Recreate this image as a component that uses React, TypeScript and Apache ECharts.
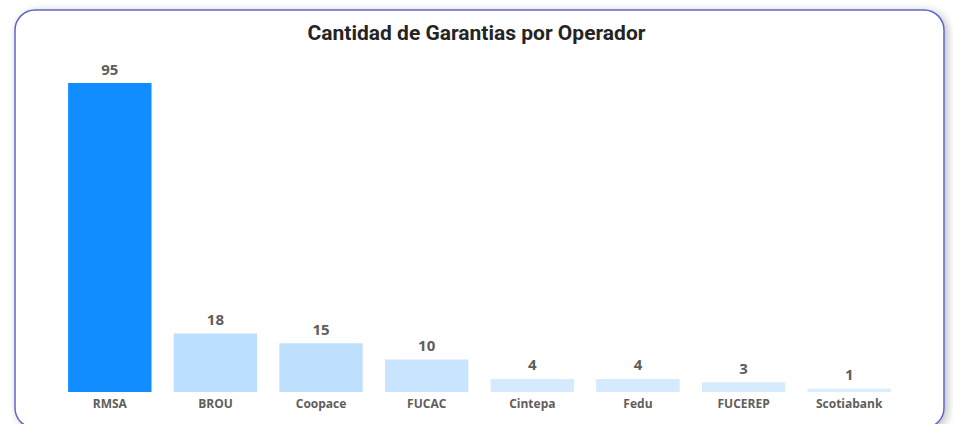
import React, { useEffect, useRef } from "react";
import * as echarts from "echarts";

const categories = ["RMSA", "BROU", "Coopace", "FUCAC", "Cintepa", "Fedu", "FUCEREP", "Scotiabank"];
const values = [95, 18, 15, 10, 4, 4, 3, 1];
const barColors = ["#118DFF", "#BCDEFF", "#C0E0FF", "#C9E4FF", "#D5EAFF", "#D5EAFF", "#D7EBFF", "#DBEEFF"];
const titleText = "Cantidad de Garantias por Operador";

export default function App() {
  const ref = useRef<HTMLDivElement>(null);
  useEffect(() => {
    if (!ref.current) return;
    const chart = echarts.init(ref.current, undefined, { renderer: "svg" });
    chart.setOption({
      animation: false,
      backgroundColor: "#ffffff",
      graphic: [
        {
          type: "rect",
          z: -10,
          silent: true,
          shape: { x: 15, y: 10, width: 929, height: 418, r: 20 },
          style: {
            fill: "#ffffff",
            stroke: "#5E66C8",
            lineWidth: 1.5,
            shadowBlur: 8,
            shadowColor: "rgba(0,0,0,0.25)",
            shadowOffsetX: 3,
            shadowOffsetY: 2,
          },
        },
      ],
      title: {
        text: titleText,
        left: "center",
        top: 17,
        textStyle: {
          fontFamily: "Roboto",
          fontWeight: "bold",
          fontSize: 21,
          color: "#252423",
        },
      },
      grid: { left: 57, right: 51, top: 83, bottom: 32, containLabel: false },
      xAxis: {
        type: "category",
        data: categories,
        axisLine: { show: false },
        axisTick: { show: false },
        axisLabel: {
          margin: 5,
          fontFamily: "Open Sans",
          fontWeight: "bold",
          fontSize: 12,
          color: "#605E5C",
        },
      },
      yAxis: {
        type: "value",
        min: 0,
        max: 95,
        show: false,
        splitLine: { show: false },
      },
      series: [
        {
          type: "bar",
          barCategoryGap: "21%",
          data: values.map((v, i) => ({ value: v, itemStyle: { color: barColors[i] } })),
          label: {
            show: true,
            position: "top",
            distance: 7,
            fontFamily: "Open Sans",
            fontWeight: "bold",
            fontSize: 15,
            color: "#605E5C",
          },
        },
      ],
    });
    return () => chart.dispose();
  }, []);
  return (
    <div
      ref={ref}
      style={{ position: "fixed", left: 0, top: 0, width: 953, height: 424 }}
    />
  );
}
